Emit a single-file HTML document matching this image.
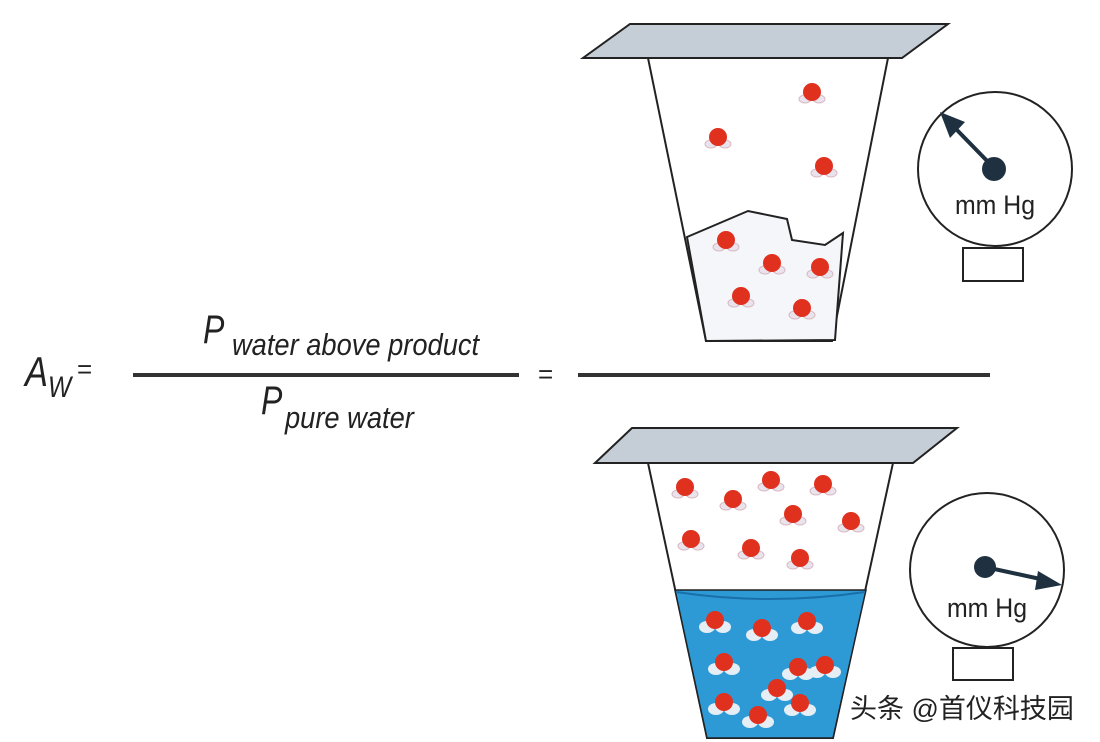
<!DOCTYPE html>
<html><head><meta charset="utf-8"><style>
html,body{margin:0;padding:0;background:#fff;}
svg{display:block}
</style></head><body>
<svg width="1100" height="742" viewBox="0 0 1100 742" xmlns="http://www.w3.org/2000/svg">
<defs>
<g id="m">
<ellipse cx="-7" cy="7" rx="6" ry="4" fill="#e9e3ee" stroke="#d8b8c0" stroke-width="1"/>
<ellipse cx="7" cy="7" rx="6" ry="4" fill="#e9e3ee" stroke="#d8b8c0" stroke-width="1"/>
<circle r="9" fill="#e0301e"/>
</g>
<g id="w">
<ellipse cx="-8" cy="7" rx="8" ry="6" fill="#e6eef5"/>
<ellipse cx="8" cy="7" rx="8" ry="6" fill="#e6eef5"/>
<circle r="9" fill="#e0301e"/>
</g>
</defs>
<rect width="1100" height="742" fill="#fff"/>
<g font-family="Liberation Sans, sans-serif" font-style="italic" fill="#222">
<text x="25" y="386" font-size="42" transform="translate(25 0) scale(0.82 1) translate(-25 0)">A</text>
<text x="48" y="397" font-size="30" transform="translate(48 0) scale(0.82 1) translate(-48 0)">W</text>
<text x="77" y="378" font-size="26" font-style="normal">=</text>
<text x="203" y="343" font-size="40" transform="translate(203 0) scale(0.8 1) translate(-203 0)">P</text>
<text x="232" y="355" font-size="31" transform="translate(232 0) scale(0.88 1) translate(-232 0)">water above product</text>
<text x="261" y="414" font-size="40" transform="translate(261 0) scale(0.8 1) translate(-261 0)">P</text>
<text x="285" y="428" font-size="31" transform="translate(285 0) scale(0.88 1) translate(-285 0)">pure water</text>
<text x="538" y="383" font-size="26" font-style="normal">=</text>
</g>
<line x1="133" y1="375" x2="519" y2="375" stroke="#333" stroke-width="4"/>
<line x1="578" y1="375" x2="990" y2="375" stroke="#333" stroke-width="4"/>

<polygon points="648,58 888,58 832,341 706,341" fill="#fff" stroke="#222" stroke-width="2"/>
<polygon points="687,237 748,211 787,219 792,240 825,245 843,233 835,340 706,341" fill="#f4f6fa" stroke="#222" stroke-width="2"/>
<polygon points="630,24 948,24 902,58 583,58" fill="#c5ced7" stroke="#222" stroke-width="2"/>
<use href="#m" x="812" y="92"/><use href="#m" x="718" y="137"/><use href="#m" x="824" y="166"/>
<use href="#m" x="726" y="240"/><use href="#m" x="772" y="263"/><use href="#m" x="820" y="267"/>
<use href="#m" x="741" y="296"/><use href="#m" x="802" y="308"/>
<rect x="963" y="248" width="60" height="33" fill="#fff" stroke="#222" stroke-width="2"/>
<circle cx="995" cy="169" r="77" fill="#fff" stroke="#222" stroke-width="2"/>
<line x1="994" y1="168" x2="955" y2="128" stroke="#1f3140" stroke-width="4"/>
<polygon points="940,112 965,122 950,138" fill="#1f3140"/>
<circle cx="994" cy="169" r="12" fill="#1f3140"/>
<text x="995" y="214" font-family="Liberation Sans, sans-serif" font-size="27" text-anchor="middle" fill="#222" transform="translate(995 0) scale(0.92 1) translate(-995 0)">mm Hg</text>

<polygon points="648,463 893,463 833,738 707,738" fill="#fff" stroke="#222" stroke-width="2"/>
<polygon points="675,590 866,590 833,738 707,738" fill="#2d9ad6" stroke="#222" stroke-width="1.5"/>
<path d="M676,592 Q770,606 865,592" fill="none" stroke="#1a6fa8" stroke-width="2"/>
<polygon points="632,428 957,428 913,463 595,463" fill="#c5ced7" stroke="#222" stroke-width="2"/>
<use href="#m" x="685" y="487"/><use href="#m" x="771" y="480"/><use href="#m" x="823" y="484"/>
<use href="#m" x="733" y="499"/><use href="#m" x="793" y="514"/><use href="#m" x="851" y="521"/>
<use href="#m" x="691" y="539"/><use href="#m" x="751" y="548"/><use href="#m" x="800" y="558"/>
<use href="#w" x="715" y="620"/><use href="#w" x="762" y="628"/><use href="#w" x="807" y="621"/>
<use href="#w" x="724" y="662"/><use href="#w" x="798" y="667"/><use href="#w" x="825" y="665"/>
<use href="#w" x="777" y="688"/><use href="#w" x="724" y="702"/><use href="#w" x="758" y="715"/>
<use href="#w" x="800" y="703"/>
<rect x="953" y="648" width="60" height="32" fill="#fff" stroke="#222" stroke-width="2"/>
<circle cx="987" cy="570" r="77" fill="#fff" stroke="#222" stroke-width="2"/>
<line x1="985" y1="567" x2="1045" y2="580" stroke="#1f3140" stroke-width="4"/>
<polygon points="1062,585 1038,571 1035,590" fill="#1f3140"/>
<circle cx="985" cy="567" r="11" fill="#1f3140"/>
<text x="987" y="617" font-family="Liberation Sans, sans-serif" font-size="27" text-anchor="middle" fill="#222" transform="translate(987 0) scale(0.92 1) translate(-987 0)">mm Hg</text>

<text x="850" y="718" font-family="Liberation Sans, Noto Sans CJK SC, sans-serif" font-size="27" fill="#222">头条 @首仪科技园</text>
</svg>
</body></html>
